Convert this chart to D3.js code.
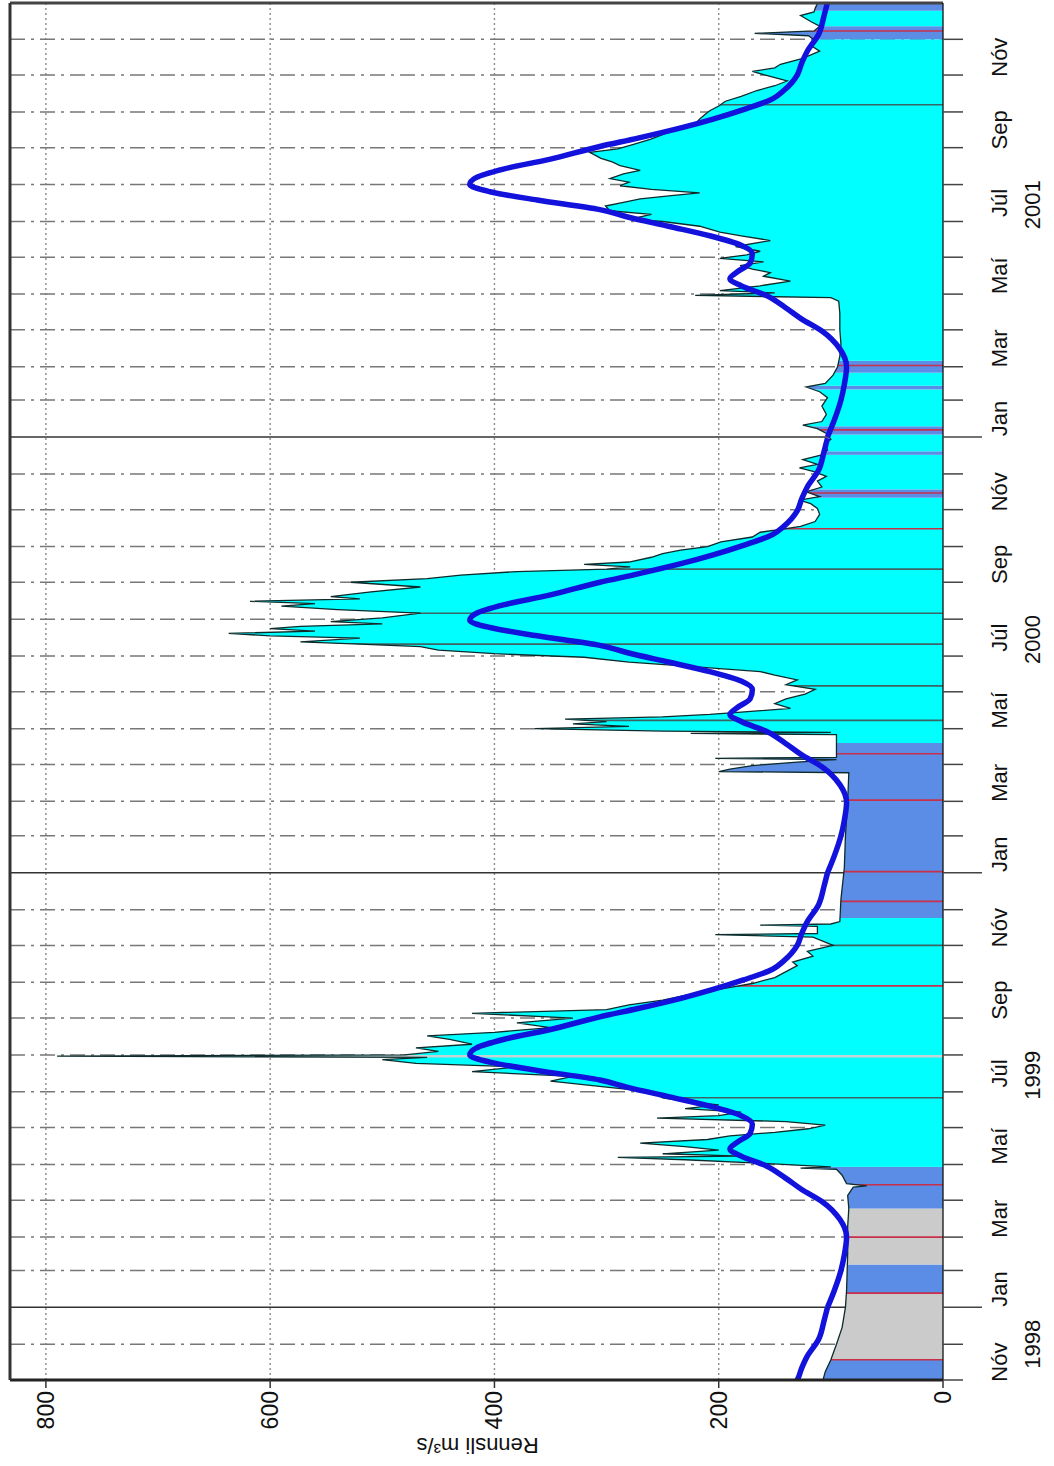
<!DOCTYPE html>
<html>
<head>
<meta charset="utf-8">
<script src="https://cdn.jsdelivr.net/npm/d3@7"></script>
<style>
  body { margin: 0; background: #fff; }
  text { font-family: "Liberation Sans", Arial, Helvetica, sans-serif; fill: #111; }
</style>
</head>
<body>
<svg width="1054" height="1466"></svg>
<script>
// daily discharge (m3/s)
var flowDates = ["1998-11-01","1998-11-08","1998-11-18","1998-12-01","1998-12-15","1999-01-01","1999-01-15","1999-02-15","1999-03-10","1999-03-25","1999-04-05","1999-04-12","1999-04-13","1999-04-15","1999-04-22","1999-04-27","1999-04-28","1999-04-29","1999-05-02","1999-05-05","1999-05-07","1999-05-08","1999-05-10","1999-05-13","1999-05-16","1999-05-19","1999-05-22","1999-05-25","1999-05-28","1999-05-31","1999-06-03","1999-06-06","1999-06-09","1999-06-11","1999-06-14","1999-06-17","1999-06-20","1999-06-23","1999-06-26","1999-07-01","1999-07-05","1999-07-10","1999-07-14","1999-07-18","1999-07-22","1999-07-25","1999-07-28","1999-07-30","1999-07-31","1999-08-01","1999-08-04","1999-08-07","1999-08-10","1999-08-14","1999-08-17","1999-08-20","1999-08-24","1999-08-28","1999-09-01","1999-09-05","1999-09-08","1999-09-12","1999-09-16","1999-09-20","1999-09-25","1999-09-30","1999-10-05","1999-10-10","1999-10-15","1999-10-18","1999-10-23","1999-10-27","1999-11-01","1999-11-08","1999-11-10","1999-11-11","1999-11-17","1999-11-18","1999-11-19","1999-11-21","1999-12-10","2000-01-05","2000-02-01","2000-03-01","2000-03-25","2000-03-26","2000-03-28","2000-03-31","2000-04-03","2000-04-05","2000-04-06","2000-04-07","2000-04-26","2000-04-27","2000-04-28","2000-04-29","2000-05-01","2000-05-03","2000-05-05","2000-05-07","2000-05-09","2000-05-11","2000-05-13","2000-05-15","2000-05-18","2000-05-22","2000-05-26","2000-05-30","2000-06-03","2000-06-07","2000-06-11","2000-06-15","2000-06-18","2000-06-22","2000-06-26","2000-06-30","2000-07-03","2000-07-06","2000-07-09","2000-07-11","2000-07-13","2000-07-16","2000-07-18","2000-07-20","2000-07-22","2000-07-24","2000-07-26","2000-07-28","2000-07-30","2000-08-02","2000-08-06","2000-08-09","2000-08-12","2000-08-14","2000-08-16","2000-08-18","2000-08-20","2000-08-24","2000-08-28","2000-09-01","2000-09-04","2000-09-07","2000-09-10","2000-09-12","2000-09-14","2000-09-16","2000-09-18","2000-09-22","2000-09-25","2000-09-28","2000-10-01","2000-10-05","2000-10-09","2000-10-13","2000-10-16","2000-10-18","2000-10-22","2000-10-28","2000-11-02","2000-11-06","2000-11-09","2000-11-12","2000-11-16","2000-11-20","2000-11-25","2000-11-29","2000-12-03","2000-12-06","2000-12-09","2000-12-13","2000-12-17","2000-12-21","2000-12-26","2000-12-30","2001-01-04","2001-01-08","2001-01-11","2001-01-14","2001-01-20","2001-01-27","2001-02-03","2001-02-08","2001-02-12","2001-02-15","2001-02-22","2001-03-01","2001-03-10","2001-03-20","2001-04-01","2001-04-15","2001-04-25","2001-04-28","2001-04-30","2001-05-02","2001-05-04","2001-05-08","2001-05-12","2001-05-16","2001-05-19","2001-05-22","2001-05-25","2001-05-28","2001-05-31","2001-06-03","2001-06-06","2001-06-10","2001-06-15","2001-06-19","2001-06-22","2001-06-27","2001-07-01","2001-07-03","2001-07-07","2001-07-10","2001-07-14","2001-07-17","2001-07-20","2001-07-23","2001-07-25","2001-07-28","2001-07-31","2001-08-03","2001-08-06","2001-08-10","2001-08-13","2001-08-17","2001-08-20","2001-08-23","2001-08-28","2001-08-31","2001-09-03","2001-09-08","2001-09-12","2001-09-15","2001-09-19","2001-09-22","2001-09-25","2001-09-29","2001-10-02","2001-10-06","2001-10-10","2001-10-14","2001-10-19","2001-10-23","2001-10-27","2001-10-31","2001-11-04","2001-11-07","2001-11-10","2001-11-15","2001-11-21","2001-11-26","2001-11-30","2001-12-04","2001-12-06","2001-12-08","2001-12-12","2001-12-16","2001-12-21","2001-12-24","2001-12-27","2001-12-31"];
var flowValues = [107,105,100,95,90,87,86,85,85,84,85,80,68,86,90,95,127,100,160,230,290,180,250,200,230,270,210,190,150,120,105,140,255,200,180,230,200,230,250,260,300,350,330,420,380,470,500,460,790,480,450,470,420,440,460,400,350,380,330,420,300,280,250,230,200,170,150,140,130,134,116,121,98,116,203,112,112,163,100,92,91,88,87,85,84,200,190,170,130,95,203,95,95,225,100,250,364,280,330,300,337,250,208,180,136,150,140,123,114,140,130,150,163,220,280,320,400,450,466,520,573,520,600,637,560,600,573,500,546,500,466,540,590,560,618,520,546,510,466,528,460,430,380,300,279,320,280,260,250,234,210,198,170,163,140,127,114,110,112,118,128,110,122,108,112,104,115,128,112,125,108,103,106,100,104,112,125,108,104,108,103,110,122,105,98,94,92,91,92,92,93,100,221,150,199,163,136,160,154,170,181,160,199,175,163,185,154,180,199,217,250,279,260,297,301,285,270,240,217,260,288,280,297,285,270,288,295,305,315,290,279,261,250,243,225,220,217,212,208,200,194,180,166,150,139,155,170,150,145,125,110,118,114,120,168,115,110,118,127,115,114,112];

// long-term mean daily discharge over one year (day of year, m3/s)
var meanDays = [1,15,32,45,60,75,90,100,110,120,128,134,140,147,155,162,170,178,186,192,200,207,213,219,226,234,245,252,261,268,276,285,292,305,315,325,339,355,366];
var meanValues = [103,97,91,88,86,92,108,126,141,158,180,190,183,172,170,180,208,245,282,306,362,404,422,416,392,352,306,272,232,205,178,152,142,130,126,121,111,106,103];
var meanYears = [1998,1999,2000,2001];

// fill colour periods (start date, class)
var bandStarts = ["1998-11-01","1998-11-18","1999-01-13","1999-02-06","1999-03-25","1999-04-29","1999-11-24","2000-04-19","2000-11-11","2000-11-18","2000-12-17","2000-12-20","2001-01-03","2001-01-10","2001-02-10","2001-02-13","2001-02-24","2001-03-06","2001-12-01","2001-12-12","2001-12-25"];
var bandColors = ["blue","gray","blue","gray","blue","cyan","blue","cyan","blue","cyan","blue","cyan","blue","cyan","blue","cyan","blue","cyan","blue","cyan","blue"];

// vertical marks inside the fill (date, class)
var markDates = ["1998-11-18","1999-01-13","1999-03-01","1999-04-14","1999-06-26","1999-07-31","1999-09-28","1999-11-01","1999-12-08","2000-01-02","2000-03-02","2000-04-10","2000-05-08","2000-06-06","2000-07-11","2000-08-06","2000-09-12","2000-10-16","2000-11-15","2001-01-07","2001-03-02","2001-10-07","2001-12-08"];
var markColors = ["red","red","red","red","gray","light","red","gray","red","red","red","red","gray","gray","gray","gray","gray","red","red","red","red","gray","red"];

var yTicks = [0,200,400,600,800];
var monthNames = ["Jan","Feb","Mar","Apr","Maí","Jún","Júl","Ágú","Sep","Okt","Nóv","Des"];
var labelledMonths = [0,2,4,6,8,10];
var yearLabelDates = ["1998-12-01","1999-07-15","2000-07-15","2001-07-15"];
var yearLabelText = ["1998","1999","2000","2001"];

var palette = { cyan: "#00ffff", blue: "#5b8de6", gray: "#cbcbcb", red: "#c8304a", mark: "#3c6464", light: "#c4d4d4" };

var parseDate = d3.timeParse("%Y-%m-%d");

var svg = d3.select("svg");
var W = 1466, H = 1054; // chart drawn unrotated, then turned a quarter turn
var margin = { left: 86, right: 3, top: 10, bottom: 111 };
var width = W - margin.left - margin.right,
    height = H - margin.top - margin.bottom;

var start = parseDate("1998-11-01"),
    end = new Date(2001, 11, 31, 12);

var x = d3.scaleTime().domain([start, end]).range([0, width]);
var y = d3.scaleLinear().domain([0, 832]).range([height, 0]);

var chart = svg.append("g").attr("transform", "translate(0," + W + ") rotate(-90)");
var g = chart.append("g").attr("transform", "translate(" + margin.left + "," + margin.top + ")");

var data = flowDates.map(function(d, i) { return { date: parseDate(d), v: flowValues[i] }; });

var defs = svg.append("defs");
defs.append("clipPath").attr("id", "plot")
  .append("rect").attr("width", width).attr("height", height);

// grid: discharge
g.append("g").selectAll("line").data(yTicks.slice(1)).enter().append("line")
  .attr("x1", 0).attr("x2", width)
  .attr("y1", function(d) { return y(d); }).attr("y2", function(d) { return y(d); })
  .attr("stroke", "#8a8a8a").attr("stroke-width", 1.4).attr("stroke-dasharray", "2,3");

// grid: months
var months = d3.timeMonth.range(d3.timeMonth.offset(start, 1), end);
g.append("g").selectAll("line").data(months).enter().append("line")
  .attr("x1", function(d) { return x(d); }).attr("x2", function(d) { return x(d); })
  .attr("y1", 0).attr("y2", height)
  .attr("stroke", function(d) { return d.getMonth() === 0 ? "#333" : "#777"; })
  .attr("stroke-width", 1.5)
  .attr("stroke-dasharray", function(d) { return d.getMonth() === 0 ? null : "15,6,3,6"; });

// filled discharge, coloured by period
var area = d3.area()
  .x(function(d) { return x(d.date); })
  .y0(y(0))
  .y1(function(d) { return y(d.v); });

defs.append("clipPath").attr("id", "under")
  .append("path").attr("d", area(data));

var bands = bandStarts.map(function(s, i) {
  return { from: parseDate(s), to: i + 1 < bandStarts.length ? parseDate(bandStarts[i + 1]) : end, c: bandColors[i] };
});

var fillG = g.append("g").attr("clip-path", "url(#under)");
fillG.selectAll("rect.band").data(bands).enter().append("rect")
  .attr("class", "band")
  .attr("x", function(d) { return x(d.from); })
  .attr("width", function(d) { return x(d.to) - x(d.from); })
  .attr("y", 0).attr("height", height)
  .attr("fill", function(d) { return palette[d.c]; });

fillG.selectAll("line.mark").data(markDates).enter().append("line")
  .attr("class", "mark")
  .attr("x1", function(d) { return x(parseDate(d)); })
  .attr("x2", function(d) { return x(parseDate(d)); })
  .attr("y1", 0).attr("y2", height)
  .attr("stroke", function(d, i) {
    return markColors[i] === "red" ? palette.red : markColors[i] === "light" ? palette.light : palette.mark;
  })
  .attr("stroke-width", function(d, i) { return markColors[i] === "light" ? 2.5 : 1.6; });

// daily line
var line = d3.line()
  .x(function(d) { return x(d.date); })
  .y(function(d) { return y(d.v); });

g.append("path").datum(data)
  .attr("d", line)
  .attr("fill", "none")
  .attr("stroke", "#0d2b2b")
  .attr("stroke-width", 1.3)
  .attr("clip-path", "url(#plot)");

// long-term mean, one copy per year
var meanG = g.append("g").attr("clip-path", "url(#plot)");
var meanLine = d3.line().curve(d3.curveMonotoneX)
  .x(function(d) { return x(d.date); })
  .y(function(d) { return y(d.v); });
meanYears.forEach(function(yr) {
  var pts = meanDays.map(function(dd, i) {
    return { date: d3.timeDay.offset(new Date(yr, 0, 1), dd - 1), v: meanValues[i] };
  });
  meanG.append("path").datum(pts)
    .attr("d", meanLine)
    .attr("fill", "none")
    .attr("stroke", "#1212dc")
    .attr("stroke-width", 5.5)
    .attr("stroke-linejoin", "round");
});

// frame
g.append("line").attr("x1", 0).attr("x2", 0).attr("y1", 0).attr("y2", height)
  .attr("stroke", "#222").attr("stroke-width", 3);
g.append("line").attr("x1", width).attr("x2", width).attr("y1", 0).attr("y2", height)
  .attr("stroke", "#444").attr("stroke-width", 3);
g.append("line").attr("x1", 0).attr("x2", width).attr("y1", 0).attr("y2", 0)
  .attr("stroke", "#333").attr("stroke-width", 3);
g.append("line").attr("x1", 0).attr("x2", width).attr("y1", height).attr("y2", height)
  .attr("stroke", "#111").attr("stroke-width", 1.3);

// discharge axis
var yAxis = g.append("g");
yAxis.selectAll("line").data(yTicks).enter().append("line")
  .attr("x1", -8).attr("x2", 0)
  .attr("y1", function(d) { return y(d); }).attr("y2", function(d) { return y(d); })
  .attr("stroke", "#333").attr("stroke-width", 1.5);
yAxis.selectAll("text").data(yTicks).enter().append("text")
  .attr("x", -11).attr("y", function(d) { return y(d); })
  .attr("dy", "0.35em").attr("text-anchor", "end")
  .style("font-size", "23px")
  .text(function(d) { return d; });

chart.append("text")
  .attr("transform", "translate(28," + (margin.top + y(415)) + ") rotate(-90)")
  .attr("text-anchor", "middle")
  .style("font-size", "22px")
  .text("Rennsli m³/s");

// time axis
var tAxis = g.append("g").attr("transform", "translate(0," + height + ")");
var tickMonths = d3.timeMonth.range(start, end);
tAxis.selectAll("line").data(tickMonths).enter().append("line")
  .attr("x1", function(d) { return x(d); }).attr("x2", function(d) { return x(d); })
  .attr("y1", 0).attr("y2", function(d) { return d.getMonth() === 0 ? 39 : 20; })
  .attr("stroke", "#444").attr("stroke-width", 1.5);

var labelMonths = tickMonths.filter(function(d) { return labelledMonths.indexOf(d.getMonth()) >= 0; });
tAxis.selectAll("text.month").data(labelMonths).enter().append("text")
  .attr("class", "month")
  .attr("x", function(d) { return (x(d) + x(d3.timeMonth.offset(d, 1))) / 2; })
  .attr("y", 64)
  .attr("text-anchor", "middle")
  .style("font-size", "22px")
  .text(function(d) { return monthNames[d.getMonth()]; });

tAxis.selectAll("text.year").data(yearLabelDates).enter().append("text")
  .attr("class", "year")
  .attr("x", function(d) { return x(parseDate(d)); })
  .attr("y", 97)
  .attr("text-anchor", "middle")
  .style("font-size", "22px")
  .text(function(d, i) { return yearLabelText[i]; });
</script>
</body>
</html>
